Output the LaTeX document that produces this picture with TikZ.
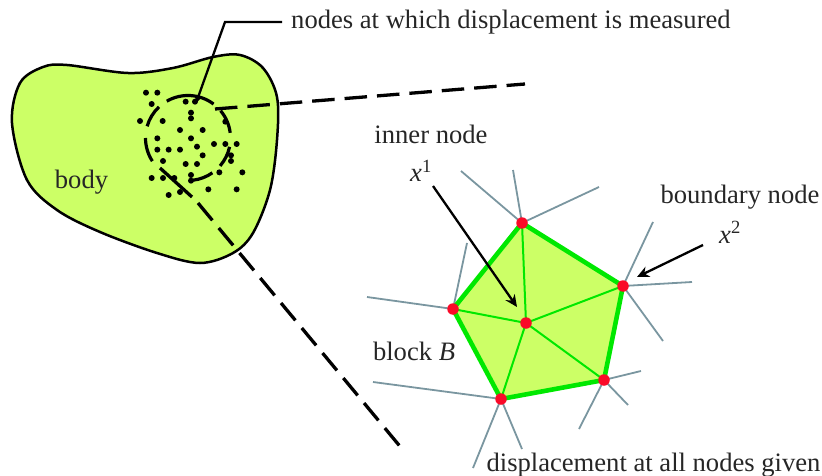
\documentclass[tikz,border=0pt]{standalone}
\usepackage{fontspec}
\setmainfont{Liberation Serif}
\usepackage{xcolor}
\usetikzlibrary{arrows.meta}
\definecolor{bodygreen}{RGB}{204,255,102}
\definecolor{edgegreen}{RGB}{0,232,0}
\definecolor{spokegray}{RGB}{122,150,160}
\definecolor{nodered}{RGB}{250,10,40}
\tikzset{
  lbl/.style={font=\fontsize{26.6}{30}\selectfont,inner sep=0pt,anchor=base,text=black!85},
  bigdash/.style={line width=3.3pt,dash pattern=on 22.5pt off 10pt},
  spoke/.style={spokegray,line width=1.8pt},
  facet/.style={edgegreen,line width=2pt},
  vert/.style={circle,fill=nodered,inner sep=0pt,minimum size=11.5pt},
  pointer/.style={-{Stealth[length=12pt,width=11pt]},line width=2.3pt}
}
\begin{document}
\begin{tikzpicture}[x=1pt,y=-1pt,>=Stealth]
    \useasboundingbox (0,0) rectangle (822,476);

    % Body
    \draw[line width=2.5pt,fill=bodygreen] plot[smooth cycle,tension=0.55] coordinates
        {(12,123) (20,83) (43,67) (67,65) (128,73) (173,68) (213,57) (240,55) (263,68)
         (277,97) (277,140) (270,190) (253,233) (233,253) (200,263) (157,253) (100,232)
         (57,210) (27,180)};
    \node[lbl] (bodylabel) at (81.5,188) {body};

    % Measured points
    \foreach \x/\y in {78/68,112/68,95/102,197/95,225/95,213/128,213/145,60/153,128/153,
        316/155,180/180,248/180,112/205,213/205,231/230,282/222,316/222,350/222,112/239,
        146/239,180/239,248/256,333/256,333/273,129/273,197/282,231/282,298/307,367/307,
        95/324,129/324,163/324,213/315,213/332,265/358,350/358,180/366,146/375}
        \fill ({120+\x/3},{70+\y/3}) circle (3);

    % Detail circle
    \coordinate (detail) at (188,138);
    \foreach \a/\b in {240/307,320/353,372/401,415/443,147/180,196/227}
        \draw[line width=3.2pt] (detail)++(\a:42.5) arc[start angle=\a,end angle=\b,radius=42.5];

    % Zoom lines
    \coordinate (upperstart) at (215,109);
    \coordinate (upperend) at (525,84);
    \coordinate (lowerstart) at (160,168);
    \coordinate (lowerbreak) at (192,197);
    \coordinate (lowerresume) at (198,203);
    \coordinate (lowerend) at (403,450);
    \draw[bigdash] (upperstart)--(upperend);
    \draw[line width=3.3pt] (lowerstart)--(lowerbreak);
    \draw[bigdash] (lowerresume)--(lowerend);

    % Leader
    \node[lbl,anchor=base west] (toplabel) at (291,29) {nodes at which displacement is measured};
    \coordinate (leaderstart) at (282,22);
    \coordinate (leaderbend) at (225,22);
    \coordinate (leadertip) at (196,103);
    \draw[line width=2.3pt,-{Stealth[length=7pt,width=7pt]}] (leaderstart)--(leaderbend)--(leadertip);

    % Block
    \coordinate (ntop) at (522,223);
    \coordinate (nright) at (623,286);
    \coordinate (nlowright) at (604,380);
    \coordinate (nlowleft) at (501,399);
    \coordinate (nleft) at (453,309);
    \coordinate (ninner) at (526,323);

    % Spokes
    \foreach \s/\x/\y in {ntop/461/171,ntop/513/170,ntop/599/187,
        nright/653/222,nright/692/282,nright/663/341,
        nlowright/641/371,nlowright/628/405,nlowright/579/429,
        nlowleft/373/382,nlowleft/522/449,nlowleft/473/468,
        nleft/467/243,nleft/367/297}
        \draw[spoke] (\s)--(\x,\y);

    \draw[edgegreen,line width=4.6pt,fill=bodygreen,line join=round]
        (ntop)--(nright)--(nlowright)--(nlowleft)--(nleft)--cycle;
    \foreach \s in {ntop,nright,nlowright,nlowleft,nleft}
        \draw[facet] (ninner)--(\s);

    % Block nodes
    \foreach \s in {ntop,nright,nlowright,nlowleft,nleft,ninner}
        \node[vert] (\s-dot) at (\s) {};

    % Labels
    \node[lbl] (innerlabel) at (431,143) {inner node};
    \node[lbl] (xone) at (421,182) {\textit{x}\textsuperscript{1}};
    \node[lbl] (boundarylabel) at (740,203) {boundary node};
    \node[lbl] (xtwo) at (730,243) {\textit{x}\textsuperscript{2}};
    \node[lbl] (blocklabel) at (414,360) {block \textit{B}};
    \node[lbl] (givenlabel) at (653.5,471) {displacement at all nodes given};

    % Arrows
    \coordinate (xonestart) at (433,186);
    \coordinate (xonetip) at (517,307);
    \coordinate (xtwostart) at (703,245);
    \coordinate (xtwotip) at (637,277);
    \draw[pointer] (xonestart)--(xonetip);
    \draw[pointer] (xtwostart)--(xtwotip);
\end{tikzpicture}
\end{document}
